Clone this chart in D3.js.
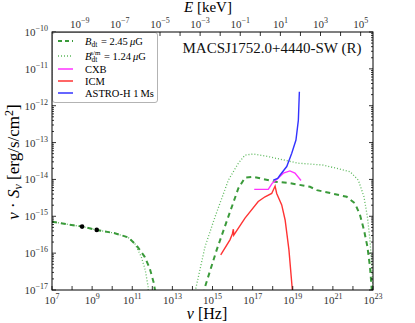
<!DOCTYPE html>
<html>
<head>
<meta charset="utf-8">
<script src="https://cdn.jsdelivr.net/npm/d3@7"></script>
<style>
  body { margin: 0; background: #fff; }
  svg { display: block; font-family: "Liberation Serif", "DejaVu Serif", serif; }
  .tick-label { font-size: 11px; fill: #333; }
</style>
</head>
<body>
<svg id="chart" width="415" height="323"></svg>
<script>
// ===== data: [log10 nu (Hz), log10 nu*S_nu (erg/s/cm^2)] =====
var radioPart = [[7.0, -15.15], [8.50, -15.28], [9.23, -15.37], [10.13, -15.46], [10.79, -15.57]];

var dashedTail = [[11.20, -15.78], [11.62, -16.10], [11.87, -16.41], [12.08, -16.82], [12.13, -17.0], [12.17, -17.3]];
var dottedTail = [[11.12, -15.73], [11.45, -16.10], [11.65, -16.46], [11.79, -16.91], [11.82, -17.3]];

var dashedIC = [[14.55, -17.13], [14.63, -16.91], [15.21, -15.91], [15.79, -15.01], [16.29, -14.24],
  [16.62, -13.95], [17.03, -13.93], [18.12, -14.06], [18.86, -14.10], [19.86, -14.20], [20.20, -14.29],
  [21.69, -14.47], [22.10, -14.65], [22.35, -14.96], [22.55, -15.37], [22.72, -15.82], [22.85, -16.37],
  [22.94, -17.0], [22.97, -17.3]];

var dottedIC = [[14.08, -17.2], [14.15, -17.0], [14.63, -15.82], [15.13, -15.01], [15.79, -14.02],
  [16.29, -13.56], [16.62, -13.34], [17.03, -13.31], [17.78, -13.38], [19.28, -13.56], [20.52, -13.61],
  [21.86, -13.79], [22.27, -14.02], [22.55, -14.47], [22.72, -15.01], [22.85, -15.64], [22.94, -16.37],
  [23.0, -17.0]];

var icmCurve = [[15.41, -16.05], [15.87, -15.64], [15.99, -15.48], [16.04, -15.35], [16.06, -15.51],
  [16.62, -15.05], [17.28, -14.60], [17.62, -14.47], [17.95, -14.38], [18.12, -14.18], [18.20, -14.38],
  [18.45, -14.69], [18.62, -15.10], [18.81, -15.91], [18.98, -17.0], [19.0, -17.3]];

var cxbCurve = [[17.08, -14.27], [17.78, -14.27], [17.98, -14.10], [18.20, -14.00], [18.53, -13.83],
  [18.86, -13.77], [19.11, -13.83], [19.41, -14.03]];

var astroCurve = [[18.03, -14.02], [18.25, -13.97], [18.37, -13.88], [18.70, -13.65], [18.95, -13.29],
  [19.16, -12.93], [19.28, -12.39], [19.33, -11.62]];

var radioPoints = [[8.50, -15.28], [9.23, -15.37]];

var xTickExps = d3.range(7, 24);          // Hz, labels every other
var yTickExps = d3.range(-17, -9);        // erg/s/cm^2
var eTickExps = d3.range(-10, 6);         // keV, labels on odd
var keVtoHz = 2.418e17;

var legendItems = [
  { kind: "dashed", color: "#3a9a3a" },
  { kind: "dotted", color: "#5cb85c" },
  { kind: "line", color: "#ff33ff", label: "CXB" },
  { kind: "line", color: "#ff3333", label: "ICM" },
  { kind: "line", color: "#3333ff", label: "ASTRO-H 1\u2009Ms" }
];

// ===== layout =====
var svg = d3.select("#chart");
var mLeft = 52, mRight = 373, mTop = 32, mBottom = 290;

var x = d3.scaleLog().domain([1e7, 1e23]).range([mLeft, mRight]);
var y = d3.scaleLog().domain([1e-17, 1e-10]).range([mBottom, mTop]);

function p10(v) { return Math.pow(10, v); }

svg.append("defs").append("clipPath").attr("id", "plot-clip")
  .append("rect").attr("x", mLeft).attr("y", mTop).attr("width", mRight - mLeft).attr("height", mBottom - mTop);

var lineFree = d3.line()
  .x(function(d) { return x(p10(d[0])); })
  .y(function(d) { return y(p10(d[1])); });

var plot = svg.append("g").attr("clip-path", "url(#plot-clip)");

// Green synchrotron + IC curves
plot.append("path").attr("d", lineFree(radioPart.concat(dottedTail)))
  .attr("fill", "none").attr("stroke", "#5cb85c").attr("stroke-width", 1.3).attr("stroke-dasharray", "1,2");
plot.append("path").attr("d", lineFree(dottedIC))
  .attr("fill", "none").attr("stroke", "#5cb85c").attr("stroke-width", 1.3).attr("stroke-dasharray", "1,2");
plot.append("path").attr("d", lineFree(radioPart.concat(dashedTail)))
  .attr("fill", "none").attr("stroke", "#3a9a3a").attr("stroke-width", 2).attr("stroke-dasharray", "5,4");
plot.append("path").attr("d", lineFree(dashedIC))
  .attr("fill", "none").attr("stroke", "#3a9a3a").attr("stroke-width", 2).attr("stroke-dasharray", "5,4");

plot.append("path").attr("d", lineFree(icmCurve))
  .attr("fill", "none").attr("stroke", "#ff3333").attr("stroke-width", 1.4);
plot.append("path").attr("d", lineFree(cxbCurve))
  .attr("fill", "none").attr("stroke", "#ff33ff").attr("stroke-width", 1.4);
plot.append("path").attr("d", lineFree(astroCurve))
  .attr("fill", "none").attr("stroke", "#3333ff").attr("stroke-width", 1.4);

plot.selectAll(".pt").data(radioPoints).join("circle")
  .attr("cx", function(d) { return x(p10(d[0])); })
  .attr("cy", function(d) { return y(p10(d[1])); })
  .attr("r", 2.3).attr("fill", "#000");

// ===== axes frame & ticks (inward) =====
var axG = svg.append("g").attr("stroke", "#000").attr("stroke-width", 0.8);

xTickExps.forEach(function(e) {
  var px = x(p10(e));
  axG.append("line").attr("x1", px).attr("x2", px).attr("y1", mBottom).attr("y2", mBottom - 4);
});

eTickExps.forEach(function(e) {
  var px = x(p10(e) * keVtoHz);
  if (px < mLeft || px > mRight) return;
  axG.append("line").attr("x1", px).attr("x2", px).attr("y1", mTop).attr("y2", mTop + 4);
});

yTickExps.forEach(function(e) {
  var py = y(p10(e));
  axG.append("line").attr("x1", mLeft).attr("x2", mLeft + 4).attr("y1", py).attr("y2", py);
  axG.append("line").attr("x1", mRight).attr("x2", mRight - 4).attr("y1", py).attr("y2", py);
  if (e < -10) {
    for (var m = 2; m <= 9; m++) {
      var pm = y(m * p10(e));
      axG.append("line").attr("x1", mLeft).attr("x2", mLeft + 2).attr("y1", pm).attr("y2", pm);
      axG.append("line").attr("x1", mRight).attr("x2", mRight - 2).attr("y1", pm).attr("y2", pm);
    }
  }
});

// power-of-ten label helper
function powLabel(g, px, py, exp, anchor) {
  var t = g.append("text").attr("class", "tick-label").attr("x", px).attr("y", py)
    .attr("text-anchor", anchor);
  t.append("tspan").text("10");
  t.append("tspan").attr("dy", -5).attr("font-size", "8px").text(String(exp).replace("-", "\u2212"));
  return t;
}

var lab = svg.append("g");
xTickExps.filter(function(e) { return e % 2 === 1; }).forEach(function(e) {
  powLabel(lab, x(p10(e)), 304, e, "middle");
});
eTickExps.filter(function(e) { return Math.abs(e) % 2 === 1; }).forEach(function(e) {
  powLabel(lab, x(p10(e) * keVtoHz), 28, e, "middle");
});
yTickExps.forEach(function(e) {
  powLabel(lab, 48, y(p10(e)) + 4, e, "end");
});

// Axis titles
var xt = svg.append("text").attr("x", 207).attr("y", 319).attr("text-anchor", "middle").attr("font-size", "16px");
xt.append("tspan").attr("font-style", "italic").text("\u03bd");
xt.append("tspan").text(" [Hz]");

var et = svg.append("text").attr("x", 208).attr("y", 12).attr("text-anchor", "middle").attr("font-size", "15px");
et.append("tspan").attr("font-style", "italic").text("E");
et.append("tspan").text(" [keV]");

var yt = svg.append("text").attr("transform", "translate(19,162) rotate(-90)")
  .attr("text-anchor", "middle").attr("font-size", "17px");
yt.append("tspan").attr("font-style", "italic").text("\u03bd");
yt.append("tspan").text(" \u00b7 ");
yt.append("tspan").attr("font-style", "italic").text("S");
yt.append("tspan").attr("font-style", "italic").attr("font-size", "12px").attr("dy", 3).text("\u03bd");
yt.append("tspan").attr("dy", -3).text(" [erg/s/cm");
yt.append("tspan").attr("font-size", "12px").attr("dy", -6).text("2");
yt.append("tspan").attr("dy", 6).text("]");

// Cluster name
svg.append("text").attr("x", 272).attr("y", 53).attr("text-anchor", "middle")
  .attr("font-size", "15px").attr("fill", "#111").text("MACSJ1752.0+4440-SW (R)");

// ===== legend =====
var leg = svg.append("g");
leg.append("rect").attr("x", mLeft + 0.5).attr("y", mTop + 0.5).attr("width", 105).attr("height", 70)
  .attr("rx", 2.5).attr("fill", "#fff").attr("stroke", "#aaa").attr("stroke-width", 0.9);

var rowY = [41, 56, 69, 81, 93];
legendItems.forEach(function(it, i) {
  var ly = rowY[i];
  var s = leg.append("line").attr("x1", 58).attr("x2", 73).attr("y1", ly).attr("y2", ly)
    .attr("stroke", it.color);
  if (it.kind === "dashed") s.attr("stroke-width", 2).attr("stroke-dasharray", "4,3");
  else if (it.kind === "dotted") s.attr("stroke-width", 1.3).attr("stroke-dasharray", "1,2");
  else s.attr("stroke-width", 1.5);
  if (it.label) {
    leg.append("text").attr("x", 85).attr("y", ly + 3.5).attr("font-size", "10.5px").text(it.label);
  }
});

// math labels for the two field strengths (sub/superscripts as tspans)
function bLabel(ly, supTxt, val) {
  var t = leg.append("text").attr("x", 85).attr("y", ly + 3.5).attr("font-size", "10.5px");
  t.append("tspan").attr("font-style", "italic").text("B");
  t.append("tspan").attr("font-size", "7.5px").attr("dy", 2.5).text("dt");
  var back = 2.5;
  if (supTxt) {
    t.append("tspan").attr("font-size", "7px").attr("dx", -7).attr("dy", -7.5).text(supTxt);
    back = -5;
  }
  t.append("tspan").attr("dy", -back).attr("dx", 1).text(" = " + val + "\u2009");
  t.append("tspan").attr("font-style", "italic").text("\u03bc");
  t.append("tspan").text("G");
}
bLabel(rowY[0], null, "2.45");
bLabel(rowY[1], "s/m", "1.24");

// frame on top
svg.append("rect").attr("x", mLeft).attr("y", mTop).attr("width", mRight - mLeft).attr("height", mBottom - mTop)
  .attr("fill", "none").attr("stroke", "#000").attr("stroke-width", 1);
</script>
</body>
</html>
